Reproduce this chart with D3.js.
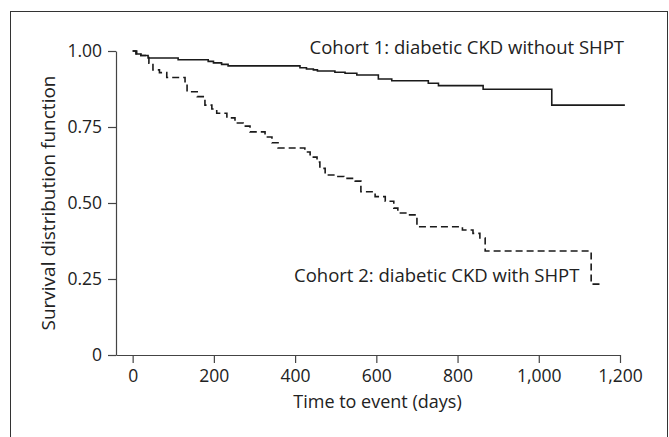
<!DOCTYPE html>
<html>
<head>
<meta charset="utf-8">
<script src="https://cdn.jsdelivr.net/npm/d3@7"></script>
<style>
  body { margin: 0; background: #fff; }
  text { font-family: "Open Sans", sans-serif; fill: #222; }
</style>
</head>
<body>
<div id="chart"></div>
<script>
// survival curves (step changes: day, survival)
var cohort1Days = [0, 10, 20, 38, 112, 186, 199, 219, 235, 412, 428, 445, 455, 498, 523, 552, 605, 638, 728, 753, 863, 1032, 1212];
var cohort1Surv = [1.000, 0.990, 0.985, 0.977, 0.971, 0.966, 0.961, 0.956, 0.951, 0.945, 0.941, 0.938, 0.934, 0.930, 0.927, 0.921, 0.908, 0.902, 0.894, 0.886, 0.874, 0.822, 0.822];

var cohort2Days = [0, 8, 20, 40, 50, 66, 84, 129, 134, 159, 178, 195, 207, 232, 252, 272, 289, 326, 343, 358, 424, 437, 454, 461, 474, 500, 520, 548, 562, 597, 622, 643, 653, 676, 700, 812, 838, 855, 868, 1129, 1151];
var cohort2Surv = [1.000, 0.990, 0.985, 0.960, 0.938, 0.929, 0.913, 0.895, 0.866, 0.850, 0.822, 0.809, 0.795, 0.780, 0.763, 0.753, 0.734, 0.717, 0.698, 0.681, 0.668, 0.651, 0.635, 0.614, 0.592, 0.587, 0.581, 0.572, 0.537, 0.521, 0.506, 0.483, 0.467, 0.461, 0.422, 0.411, 0.400, 0.385, 0.342, 0.233, 0.233];

var seriesLabels = ["Cohort 1: diabetic CKD without SHPT", "Cohort 2: diabetic CKD with SHPT"];
var xTicks = [0, 200, 400, 600, 800, 1000, 1200];
var yTicks = [0, 0.25, 0.5, 0.75, 1];
var xTitle = "Time to event (days)";
var yTitle = "Survival distribution function";

var svgWidth = 669;
var svgHeight = 437;

var svg = d3.select("#chart")
    .append("svg")
    .attr("width", svgWidth)
    .attr("height", svgHeight);

// outer frame
svg.append("rect")
    .attr("x", 10.5)
    .attr("y", 11.5)
    .attr("width", 657)
    .attr("height", 440)
    .attr("fill", "none")
    .attr("stroke", "#333")
    .attr("stroke-width", 1);

// scales
var x = d3.scaleLinear()
    .domain([-41, 1200])
    .range([116, 620]);

var y = d3.scaleLinear()
    .domain([0, 1])
    .range([355, 51]);

// x axis
var xAxis = svg.append("g")
    .attr("transform", "translate(0," + y(0) + ")")
    .call(d3.axisBottom(x)
        .tickValues(xTicks)
        .tickSize(8)
        .tickSizeOuter(0)
        .tickPadding(7)
        .tickFormat(d3.format(",")));

// y axis
var yAxis = svg.append("g")
    .attr("transform", "translate(" + x(-41) + ",0)")
    .call(d3.axisLeft(y)
        .tickValues(yTicks)
        .tickSize(8)
        .tickSizeOuter(0)
        .tickPadding(6)
        .tickFormat(function (d) { return d === 0 ? "0" : d3.format(".2f")(d); }));

[xAxis, yAxis].forEach(function (g) {
    g.selectAll("path, line").attr("stroke", "#444").attr("stroke-width", 1.2);
    g.selectAll("text")
        .style("font-family", "'Open Sans', sans-serif")
        .style("font-size", "17.5px")
        .attr("fill", "#222");
});

// axis titles
svg.append("text")
    .attr("x", 377.5)
    .attr("y", 408)
    .attr("text-anchor", "middle")
    .style("font-size", "18px")
    .text(xTitle);

svg.append("text")
    .attr("transform", "translate(55," + y(0.5) + ") rotate(-90)")
    .attr("text-anchor", "middle")
    .style("font-size", "19px")
    .text(yTitle);

// curves
var line = d3.line()
    .x(function (d) { return x(d[0]); })
    .y(function (d) { return y(d[1]); })
    .curve(d3.curveStepAfter);

svg.append("path")
    .datum(d3.zip(cohort1Days, cohort1Surv))
    .attr("d", line)
    .attr("fill", "none")
    .attr("stroke", "#1a1a1a")
    .attr("stroke-width", 1.6);

svg.append("path")
    .datum(d3.zip(cohort2Days, cohort2Surv))
    .attr("d", line)
    .attr("fill", "none")
    .attr("stroke", "#1a1a1a")
    .attr("stroke-width", 1.6)
    .attr("stroke-dasharray", "7,4");

// series labels
svg.append("text")
    .attr("x", 624)
    .attr("y", 54)
    .attr("text-anchor", "end")
    .style("font-size", "18.5px")
    .text(seriesLabels[0]);

svg.append("text")
    .attr("x", 294)
    .attr("y", 282)
    .style("font-size", "18.5px")
    .text(seriesLabels[1]);
</script>
</body>
</html>
